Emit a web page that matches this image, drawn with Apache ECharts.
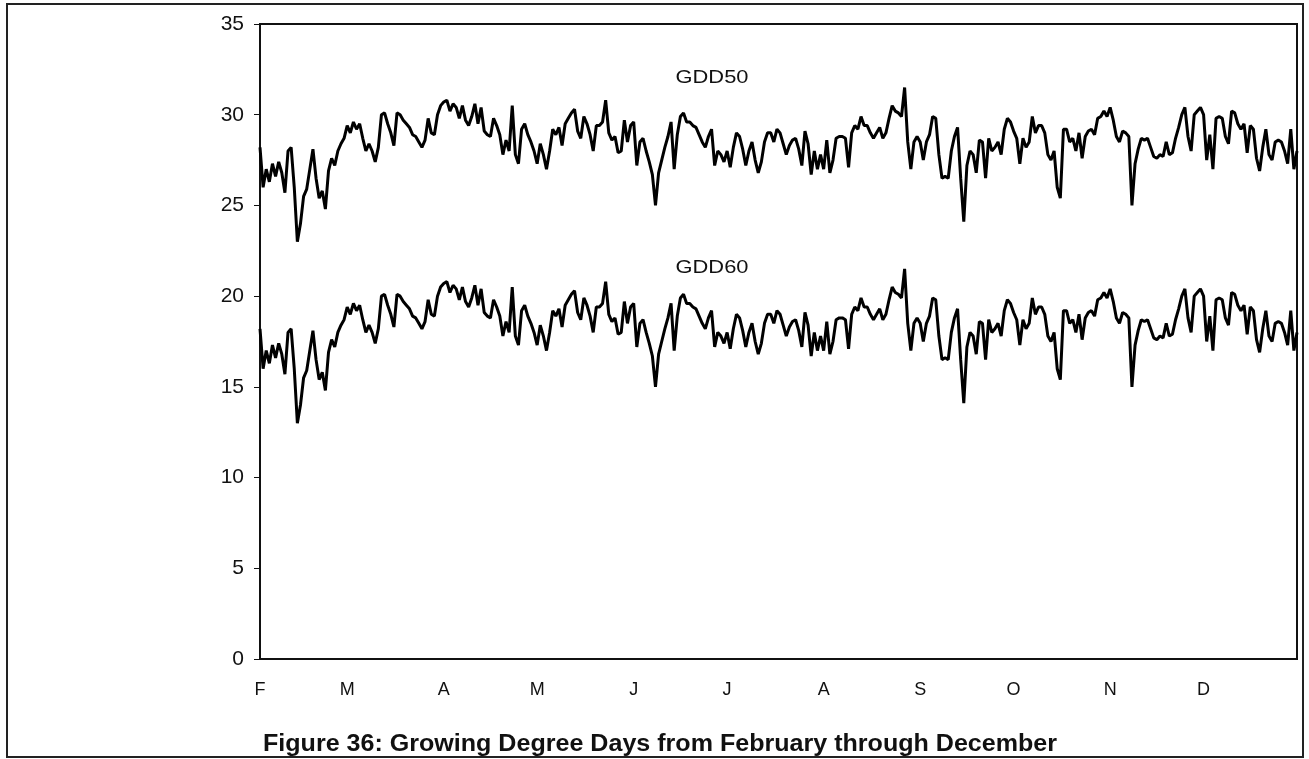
<!DOCTYPE html>
<html>
<head>
<meta charset="utf-8">
<title>Growing Degree Days</title>
<script src="https://cdn.jsdelivr.net/npm/echarts@6/dist/echarts.min.js"></script>
<style>
  html, body { margin: 0; padding: 0; background: #fff; }
  #chart { width: 1309px; height: 759px; }
</style>
</head>
<body>
<div id="chart"></div>
<script>
// Month axis: one category per day, February 1 through December 31
const monthNames = ['F', 'M', 'A', 'M', 'J', 'J', 'A', 'S', 'O', 'N', 'D'];
const monthDays = [28, 31, 30, 31, 30, 31, 31, 30, 31, 30, 31];

// Daily growing degree days, base 50
const gdd50 = [
  28.2, 26.0, 27.0, 26.3, 27.3, 26.6, 27.4, 26.8, 25.7, 28.0,
  28.2, 26.0, 23.0, 24.0, 25.5, 25.9, 27.0, 28.1, 26.5, 25.4,
  25.8, 24.8, 26.9, 27.6, 27.2, 28.0, 28.4, 28.7, 29.4, 29.0,
  29.6, 29.2, 29.5, 28.7, 28.0, 28.4, 28.0, 27.4, 28.2, 30.0,
  30.1, 29.5, 29.0, 28.3, 30.1, 30.0, 29.7, 29.5, 29.3, 28.9,
  28.8, 28.5, 28.2, 28.6, 29.8, 29.0, 28.9, 30.0, 30.5, 30.7,
  30.8, 30.2, 30.6, 30.4, 29.8, 30.5, 29.7, 29.4, 29.9, 30.6,
  29.5, 30.4, 29.1, 28.9, 28.8, 29.8, 29.4, 28.9, 27.8, 28.6,
  28.0, 30.5, 27.8, 27.3, 29.2, 29.5, 28.9, 28.5, 28.0, 27.3,
  28.4, 27.8, 27.0, 28.0, 29.2, 28.9, 29.3, 28.3, 29.5, 29.8,
  30.1, 30.3, 29.1, 28.7, 29.9, 29.5, 28.9, 28.0, 29.4, 29.4,
  29.6, 30.8, 29.0, 28.6, 28.8, 27.9, 28.0, 29.7, 28.5, 29.4,
  29.6, 27.2, 28.5, 28.7, 28.0, 27.4, 26.7, 25.0, 26.8, 27.5,
  28.2, 28.8, 29.6, 27.0, 28.9, 29.9, 30.1, 29.6, 29.6, 29.4,
  29.3, 28.9, 28.5, 28.2, 28.8, 29.2, 27.2, 28.0, 27.8, 27.4,
  28.0, 27.1, 28.2, 29.0, 28.8, 28.1, 27.2, 28.0, 28.5, 27.5,
  26.8, 27.4, 28.5, 29.0, 29.0, 28.5, 29.2, 29.0, 28.4, 27.8,
  28.3, 28.6, 28.7, 28.1, 27.2, 29.1, 28.4, 26.7, 28.0, 27.0,
  27.8, 27.0, 28.6, 26.8, 27.5, 28.7, 28.8, 28.8, 28.7, 27.1,
  29.0, 29.4, 29.2, 29.9, 29.4, 29.4, 29.0, 28.7, 29.0, 29.3,
  28.7, 29.0, 29.8, 30.5, 30.2, 30.1, 29.9, 31.5, 28.5, 27.0,
  28.5, 28.8, 28.5, 27.5, 28.5, 28.9, 29.9, 29.8, 27.8, 26.5,
  26.6, 26.5, 28.0, 28.8, 29.3, 26.5, 24.1, 27.2, 28.0, 27.8,
  26.8, 28.6, 28.5, 26.5, 28.7, 28.0, 28.2, 28.5, 27.8, 29.2,
  29.8, 29.6, 29.1, 28.7, 27.3, 28.7, 28.2, 28.5, 29.9, 29.0,
  29.4, 29.4, 29.0, 27.8, 27.5, 28.0, 26.0, 25.4, 29.2, 29.2,
  28.5, 28.7, 28.0, 29.0, 27.6, 28.8, 29.1, 29.2, 28.9, 29.8,
  29.9, 30.2, 29.9, 30.4, 29.7, 28.8, 28.5, 29.1, 29.0, 28.8,
  25.0, 27.3, 28.1, 28.7, 28.6, 28.7, 28.2, 27.7, 27.6, 27.8,
  27.7, 28.5, 27.8, 27.9, 28.7, 29.3, 30.0, 30.4, 28.8, 28.0,
  30.0, 30.2, 30.4, 30.0, 27.5, 28.9, 27.0, 29.8, 29.9, 29.8,
  28.8, 28.4, 30.2, 30.1, 29.5, 29.2, 29.5, 27.9, 29.4, 29.2,
  27.6, 26.9, 28.2, 29.2, 27.8, 27.5, 28.5, 28.6, 28.5, 28.0,
  27.3, 29.2, 27.0, 28.0
];

// Daily growing degree days, base 60
const gdd60 = [
  18.2, 16.0, 17.0, 16.3, 17.3, 16.6, 17.4, 16.8, 15.7, 18.0,
  18.2, 16.0, 13.0, 14.0, 15.5, 15.9, 17.0, 18.1, 16.5, 15.4,
  15.8, 14.8, 16.9, 17.6, 17.2, 18.0, 18.4, 18.7, 19.4, 19.0,
  19.6, 19.2, 19.5, 18.7, 18.0, 18.4, 18.0, 17.4, 18.2, 20.0,
  20.1, 19.5, 19.0, 18.3, 20.1, 20.0, 19.7, 19.5, 19.3, 18.9,
  18.8, 18.5, 18.2, 18.6, 19.8, 19.0, 18.9, 20.0, 20.5, 20.7,
  20.8, 20.2, 20.6, 20.4, 19.8, 20.5, 19.7, 19.4, 19.9, 20.6,
  19.5, 20.4, 19.1, 18.9, 18.8, 19.8, 19.4, 18.9, 17.8, 18.6,
  18.0, 20.5, 17.8, 17.3, 19.2, 19.5, 18.9, 18.5, 18.0, 17.3,
  18.4, 17.8, 17.0, 18.0, 19.2, 18.9, 19.3, 18.3, 19.5, 19.8,
  20.1, 20.3, 19.1, 18.7, 19.9, 19.5, 18.9, 18.0, 19.4, 19.4,
  19.6, 20.8, 19.0, 18.6, 18.8, 17.9, 18.0, 19.7, 18.5, 19.4,
  19.6, 17.2, 18.5, 18.7, 18.0, 17.4, 16.7, 15.0, 16.8, 17.5,
  18.2, 18.8, 19.6, 17.0, 18.9, 19.9, 20.1, 19.6, 19.6, 19.4,
  19.3, 18.9, 18.5, 18.2, 18.8, 19.2, 17.2, 18.0, 17.8, 17.4,
  18.0, 17.1, 18.2, 19.0, 18.8, 18.1, 17.2, 18.0, 18.5, 17.5,
  16.8, 17.4, 18.5, 19.0, 19.0, 18.5, 19.2, 19.0, 18.4, 17.8,
  18.3, 18.6, 18.7, 18.1, 17.2, 19.1, 18.4, 16.7, 18.0, 17.0,
  17.8, 17.0, 18.6, 16.8, 17.5, 18.7, 18.8, 18.8, 18.7, 17.1,
  19.0, 19.4, 19.2, 19.9, 19.4, 19.4, 19.0, 18.7, 19.0, 19.3,
  18.7, 19.0, 19.8, 20.5, 20.2, 20.1, 19.9, 21.5, 18.5, 17.0,
  18.5, 18.8, 18.5, 17.5, 18.5, 18.9, 19.9, 19.8, 17.8, 16.5,
  16.6, 16.5, 18.0, 18.8, 19.3, 16.5, 14.1, 17.2, 18.0, 17.8,
  16.8, 18.6, 18.5, 16.5, 18.7, 18.0, 18.2, 18.5, 17.8, 19.2,
  19.8, 19.6, 19.1, 18.7, 17.3, 18.7, 18.2, 18.5, 19.9, 19.0,
  19.4, 19.4, 19.0, 17.8, 17.5, 18.0, 16.0, 15.4, 19.2, 19.2,
  18.5, 18.7, 18.0, 19.0, 17.6, 18.8, 19.1, 19.2, 18.9, 19.8,
  19.9, 20.2, 19.9, 20.4, 19.7, 18.8, 18.5, 19.1, 19.0, 18.8,
  15.0, 17.3, 18.1, 18.7, 18.6, 18.7, 18.2, 17.7, 17.6, 17.8,
  17.7, 18.5, 17.8, 17.9, 18.7, 19.3, 20.0, 20.4, 18.8, 18.0,
  20.0, 20.2, 20.4, 20.0, 17.5, 18.9, 17.0, 19.8, 19.9, 19.8,
  18.8, 18.4, 20.2, 20.1, 19.5, 19.2, 19.5, 17.9, 19.4, 19.2,
  17.6, 16.9, 18.2, 19.2, 17.8, 17.5, 18.5, 18.6, 18.5, 18.0,
  17.3, 19.2, 17.0, 18.0
];

// Build the day categories and remember where each month starts
const days = [];
const monthStart = {};
monthDays.forEach((len, m) => {
  for (let d = 1; d <= len; d++) {
    if (d === 1) monthStart[days.length] = monthNames[m];
    days.push((m + 2) + '/' + d);
  }
});

const FONT = '"Liberation Sans", Arial, Helvetica, sans-serif';
const chart = echarts.init(document.getElementById('chart'), null, { renderer: 'canvas' });

// Slightly widened text, centred on (x, y)
function label(text, x, y, size, weight, sx) {
  return {
    type: 'text', x: x, y: y, scaleX: sx, silent: true,
    style: {
      text: text, x: 0, y: 0, align: 'center', verticalAlign: 'middle',
      fontFamily: FONT, fontSize: size, fontWeight: weight, fill: '#111'
    }
  };
}

chart.setOption({
  backgroundColor: '#ffffff',
  animation: false,
  grid: {
    left: 260, top: 24, width: 1037, height: 635,
    show: true, borderColor: '#111', borderWidth: 2, backgroundColor: 'transparent'
  },
  xAxis: {
    type: 'category',
    data: days,
    boundaryGap: false,
    axisLine: { show: true, lineStyle: { color: '#111', width: 2 } },
    axisTick: { show: false },
    splitLine: { show: false },
    axisLabel: {
      interval: (idx) => monthStart[idx] !== undefined,
      formatter: (val, idx) => monthStart[idx] || '',
      fontFamily: FONT, fontSize: 18, color: '#111', margin: 22
    }
  },
  yAxis: {
    type: 'value',
    min: 0, max: 35, interval: 5,
    axisLine: { show: true, lineStyle: { color: '#111', width: 2 } },
    axisTick: { show: true, length: 6, lineStyle: { color: '#111', width: 1 } },
    splitLine: { show: false },
    axisLabel: { fontFamily: FONT, fontSize: 21, color: '#111', margin: 16 }
  },
  graphic: [
    {
      type: 'rect', x: 7, y: 4, silent: true,
      shape: { x: 0, y: 0, width: 1296, height: 753 },
      style: { fill: 'none', stroke: '#222', lineWidth: 2 }
    },
    label('GDD50', 712, 78, 19, 'normal', 1.15),
    label('GDD60', 712, 268, 19, 'normal', 1.15),
    label('Figure 36: Growing Degree Days from February through December', 660, 745, 23, 'bold', 1.09)
  ],
  series: [
    {
      name: 'GDD50', type: 'line', data: gdd50, showSymbol: false,
      lineStyle: { color: '#000', width: 3 }, z: 3
    },
    {
      name: 'GDD60', type: 'line', data: gdd60, showSymbol: false,
      lineStyle: { color: '#000', width: 3 }, z: 3
    }
  ]
});
</script>
</body>
</html>
